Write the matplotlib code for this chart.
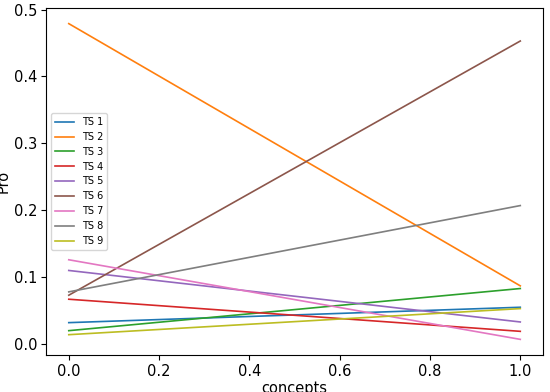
import numpy as np
import matplotlib
matplotlib.use("Agg")
import matplotlib.pyplot as plt

# x positions
concepts = [0.0, 1.0]

# values per series (start, end)
labels = ["TS 1", "TS 2", "TS 3", "TS 4", "TS 5", "TS 6", "TS 7", "TS 8", "TS 9"]
ts1 = [0.032, 0.055]
ts2 = [0.479, 0.087]
ts3 = [0.020, 0.083]
ts4 = [0.067, 0.019]
ts5 = [0.110, 0.033]
ts6 = [0.073, 0.453]
ts7 = [0.126, 0.007]
ts8 = [0.078, 0.207]
ts9 = [0.014, 0.053]
series = [ts1, ts2, ts3, ts4, ts5, ts6, ts7, ts8, ts9]

fig = plt.figure(figsize=(5.5, 3.92), dpi=100)
ax = fig.add_axes([0.084, 0.094, 0.903, 0.886])

for lab, vals in zip(labels, series):
    ax.plot(concepts, vals, label=lab, linewidth=1.2)

ax.tick_params(labelsize=10.5, pad=3)
ax.set_xlabel("concepts", fontsize=10.5, labelpad=1)
ax.set_ylabel("Pro", fontsize=10.5, labelpad=2)
ax.legend(loc="center left", fontsize=7)

fig.savefig("out.png", dpi=100)
plt.close()
